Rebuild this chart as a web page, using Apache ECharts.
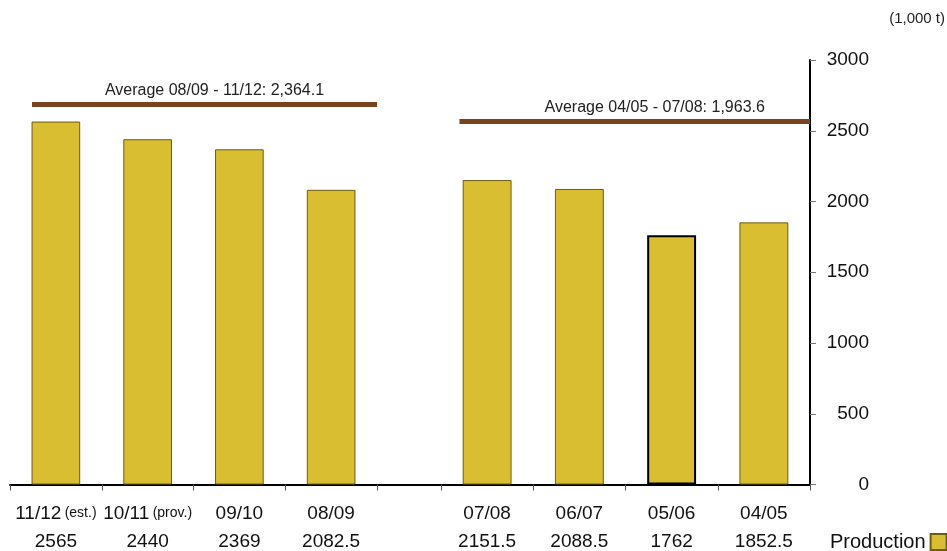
<!DOCTYPE html>
<html>
<head>
<meta charset="utf-8">
<script src="https://cdn.jsdelivr.net/npm/echarts@6/dist/echarts.min.js"></script>
<style>
  html, body { margin: 0; padding: 0; background: #fff; }
  #chart { width: 947px; height: 551px; }
</style>
</head>
<body>
<div id="chart"></div>
<script>
// Crop years, newest first, split into the two four-year periods
const recentYears = ['11/12', '10/11', '09/10', '08/09'];
const recentNotes = ['(est.)', '(prov.)', '', ''];
const recentProduction = [2565, 2440, 2369, 2082.5];

const earlierYears = ['07/08', '06/07', '05/06', '04/05'];
const earlierNotes = ['', '', '', ''];
const earlierProduction = [2151.5, 2088.5, 1762, 1852.5];

const yTicks = [0, 500, 1000, 1500, 2000, 2500, 3000];

const BAR = '#D8BE30';
const BAR_EDGE = '#6E5C14';
const BROWN = '#7A4320';
const FONT = '"Liberation Sans", Arial, Helvetica, sans-serif';

// Heights (in axis units) where the period brackets sit, above the bars
const bracketLevel = { recent: 2685, earlier: 2565 };
// Horizontal extent of each bracket, in category-slot units within its panel
const bracketSpan = { recent: [0.24, 4.0], earlier: [0.2, 4.0] };

function mean(arr) { return arr.reduce((a, b) => a + b, 0) / arr.length; }
function fmt(v) {
  return v.toFixed(1).replace(/\B(?=(\d{3})+(?!\d))/g, ',');
}
function periodLabel(years, values) {
  return 'Average ' + years[years.length - 1] + ' - ' + years[0] + ': ' + fmt(mean(values));
}

function xCat(gridIndex, years, notes, values) {
  return {
    type: 'category', gridIndex, data: years, boundaryGap: true,
    axisLine: { onZero: false, lineStyle: { color: '#000', width: 2 } },
    axisTick: { show: true, length: 6, lineStyle: { color: '#555', width: 1 } },
    axisLabel: {
      interval: 0, margin: 15, color: '#111', fontFamily: FONT,
      formatter: (val, idx) => {
        const note = notes[idx] ? ' {s|' + notes[idx] + '}' : '';
        return '{n|' + years[idx] + '}' + note + '\n{n|' + values[idx] + '}';
      },
      rich: {
        n: { fontSize: 19, lineHeight: 28, fontFamily: FONT, color: '#111' },
        s: { fontSize: 14, lineHeight: 28, fontFamily: FONT, color: '#111' }
      }
    },
    splitLine: { show: false }
  };
}

function xHidden(gridIndex) {
  return { type: 'value', gridIndex, min: 0, max: 4, show: false, splitLine: { show: false } };
}

function yHidden(gridIndex) {
  return {
    type: 'value', gridIndex, min: 0, max: 3000, interval: 500, show: false,
    axisLine: { onZero: false }, splitLine: { show: false }
  };
}

function barData(years, values) {
  return values.map((v, i) => {
    if (years[i] === '05/06') {
      return { value: v, itemStyle: { borderColor: '#000', borderWidth: 2 } };
    }
    return v;
  });
}

function bracket(xAxisIndex, yAxisIndex, span, level, text, pad) {
  return {
    type: 'line', xAxisIndex, yAxisIndex, data: [], silent: true,
    markLine: {
      silent: true, symbol: 'none', animation: false,
      lineStyle: { color: BROWN, width: 5, type: 'solid' },
      label: {
        show: true, position: 'middle', formatter: text,
        color: '#222', fontSize: 16, fontFamily: FONT, distance: 6,
        padding: pad
      },
      data: [[{ coord: [span[0], level] }, { coord: [span[1], level] }]]
    }
  };
}

const chart = echarts.init(document.getElementById('chart'), null, { renderer: 'canvas' });

const option = {
  animation: false,
  backgroundColor: '#fff',
  title: {
    text: '(1,000 t)', right: 2, top: 11, padding: 0,
    textStyle: { fontSize: 15, fontWeight: 'normal', color: '#222', fontFamily: FONT }
  },
  legend: {
    data: ['Production'], left: 830, top: 532, align: 'right', padding: 0,
    icon: 'rect', itemWidth: 16, itemHeight: 16, itemGap: 7,
    textStyle: { fontSize: 20, color: '#111', fontFamily: FONT }
  },
  grid: [
    { left: 10, width: 367, top: 60, bottom: 66 },
    { left: 441, width: 369, top: 60, bottom: 66 },
    { left: 377, width: 64, top: 60, bottom: 66 }
  ],
  xAxis: [
    xCat(0, recentYears, recentNotes, recentProduction),
    xCat(1, earlierYears, earlierNotes, earlierProduction),
    {
      type: 'category', gridIndex: 2, data: [''],
      axisLine: { onZero: false, lineStyle: { color: '#000', width: 2 } },
      axisTick: { show: false }, axisLabel: { show: false }
    },
    xHidden(0),
    xHidden(1)
  ],
  yAxis: [
    yHidden(0),
    {
      type: 'value', gridIndex: 1, position: 'right', min: 0, max: 3000, interval: 500,
      axisLine: { show: true, onZero: false, lineStyle: { color: '#000', width: 2 } },
      axisTick: { show: true, length: 6, lineStyle: { color: '#777', width: 1 } },
      axisLabel: {
        color: '#111', fontSize: 19, fontFamily: FONT, align: 'right', margin: 59,
        formatter: v => (yTicks.indexOf(v) >= 0 ? String(v) : '')
      },
      splitLine: { show: false }
    },
    yHidden(2)
  ],
  series: [
    {
      name: 'Production', type: 'bar', xAxisIndex: 0, yAxisIndex: 0,
      barWidth: '53%',
      itemStyle: { color: BAR, borderColor: BAR_EDGE, borderWidth: 1 },
      data: barData(recentYears, recentProduction)
    },
    {
      name: 'Production', type: 'bar', xAxisIndex: 1, yAxisIndex: 1,
      barWidth: '53%',
      itemStyle: { color: BAR, borderColor: BAR_EDGE, borderWidth: 1 },
      data: barData(earlierYears, earlierProduction)
    },
    bracket(3, 0, bracketSpan.recent, bracketLevel.recent,
      periodLabel(recentYears, recentProduction), [0, 0, 0, 20]),
    bracket(4, 1, bracketSpan.earlier, bracketLevel.earlier,
      periodLabel(earlierYears, earlierProduction), [0, 0, 0, 40])
  ]
};

chart.setOption(option);
</script>
</body>
</html>
